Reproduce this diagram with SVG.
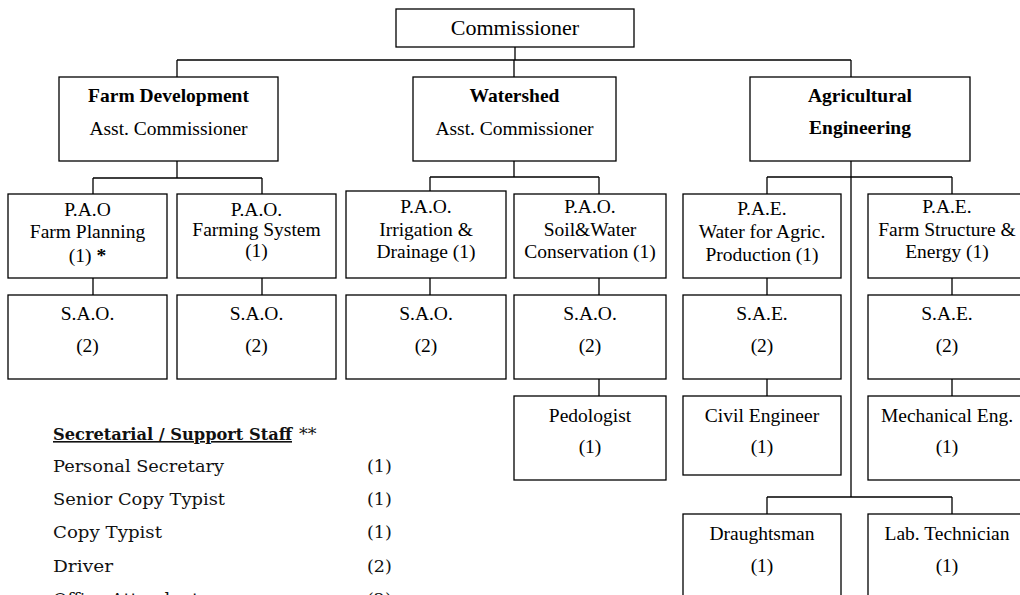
<svg xmlns="http://www.w3.org/2000/svg" width="1020" height="595" viewBox="0 0 1020 595">
<style>
  .box { fill: #fff; stroke: #000; stroke-width: 1.3; }
  .ln { fill: none; stroke: #000; stroke-width: 1.3; }
  .t { font-family: "Liberation Serif", "Times New Roman", serif; font-size: 19.5px; fill: #000; text-anchor: middle; }
  .b { font-weight: bold; }
  .s { font-family: "DejaVu Serif", "Liberation Serif", serif; font-size: 17.5px; fill: #111; }
</style>
<rect width="1020" height="595" fill="#fff"/>
<g id="connectors">
  <path class="ln" d="M515 47 V60 M177 60 H851 M177 60 V77 M514 60 V77 M851 60 V77"/>
  <path class="ln" d="M177 161 V178 M93 178 H262 M93 178 V194 M262 178 V194"/>
  <path class="ln" d="M514 161 V177 M430 177 H599 M430 177 V191 M599 177 V194"/>
  <path class="ln" d="M851 161 V497 M767 177 H952 M767 177 V194 M952 177 V194 M767 497 H952 M767 497 V514 M952 497 V514"/>
  <path class="ln" d="M93 278 V295 M262 278 V295 M430 278 V295 M599 278 V295 M767 278 V295 M952 278 V295"/>
  <path class="ln" d="M599 379 V396 M767 379 V396 M952 379 V396"/>
</g>
<g id="commissioner">
  <rect class="box" x="396" y="9" width="238" height="38"/>
  <text class="t" x="515" y="35" style="font-size:22px">Commissioner</text>
</g>
<g id="farm-development">
  <rect class="box" x="59" y="77" width="219" height="84"/>
  <text class="t b" x="168.5" y="102">Farm Development</text>
  <text class="t" x="168.5" y="135">Asst. Commissioner</text>
</g>
<g id="watershed">
  <rect class="box" x="413" y="77" width="203" height="84"/>
  <text class="t b" x="514.5" y="102">Watershed</text>
  <text class="t" x="514.5" y="135">Asst. Commissioner</text>
</g>
<g id="agricultural-engineering">
  <rect class="box" x="750" y="77" width="220" height="84"/>
  <text class="t b" x="860" y="102">Agricultural</text>
  <text class="t b" x="860" y="134">Engineering</text>
</g>
<g id="pao-farm-planning">
  <rect class="box" x="8" y="194" width="159" height="84"/>
  <text class="t" x="87.5" y="216">P.A.O</text>
  <text class="t" x="87.5" y="238">Farm Planning</text>
  <text class="t" x="87.5" y="262">(1) <tspan font-weight="bold">*</tspan></text>
</g>
<g id="pao-farming-system">
  <rect class="box" x="177" y="194" width="159" height="84"/>
  <text class="t" x="256.5" y="216">P.A.O.</text>
  <text class="t" x="256.5" y="236">Farming System</text>
  <text class="t" x="256.5" y="257">(1)</text>
</g>
<g id="pao-irrigation">
  <rect class="box" x="346" y="191" width="160" height="87"/>
  <text class="t" x="426" y="213">P.A.O.</text>
  <text class="t" x="426" y="236">Irrigation &amp;</text>
  <text class="t" x="426" y="258">Drainage (1)</text>
</g>
<g id="pao-soil-water">
  <rect class="box" x="514" y="194" width="152" height="84"/>
  <text class="t" x="590" y="213">P.A.O.</text>
  <text class="t" x="590" y="236">Soil&amp;Water</text>
  <text class="t" x="590" y="258">Conservation (1)</text>
</g>
<g id="pae-water">
  <rect class="box" x="683" y="194" width="158" height="84"/>
  <text class="t" x="762" y="215">P.A.E.</text>
  <text class="t" x="762" y="238">Water for Agric.</text>
  <text class="t" x="762" y="261">Production (1)</text>
</g>
<g id="pae-farm-structure">
  <rect class="box" x="868" y="194" width="158" height="84"/>
  <text class="t" x="947" y="213">P.A.E.</text>
  <text class="t" x="947" y="236">Farm Structure &amp;</text>
  <text class="t" x="947" y="258">Energy (1)</text>
</g>
<g id="sao-1">
  <rect class="box" x="8" y="295" width="159" height="84"/>
  <text class="t" x="87.5" y="320">S.A.O.</text>
  <text class="t" x="87.5" y="352">(2)</text>
</g>
<g id="sao-2">
  <rect class="box" x="177" y="295" width="159" height="84"/>
  <text class="t" x="256.5" y="320">S.A.O.</text>
  <text class="t" x="256.5" y="352">(2)</text>
</g>
<g id="sao-3">
  <rect class="box" x="346" y="295" width="160" height="84"/>
  <text class="t" x="426" y="320">S.A.O.</text>
  <text class="t" x="426" y="352">(2)</text>
</g>
<g id="sao-4">
  <rect class="box" x="514" y="295" width="152" height="84"/>
  <text class="t" x="590" y="320">S.A.O.</text>
  <text class="t" x="590" y="352">(2)</text>
</g>
<g id="sae-1">
  <rect class="box" x="683" y="295" width="158" height="84"/>
  <text class="t" x="762" y="320">S.A.E.</text>
  <text class="t" x="762" y="352">(2)</text>
</g>
<g id="sae-2">
  <rect class="box" x="868" y="295" width="158" height="84"/>
  <text class="t" x="947" y="320">S.A.E.</text>
  <text class="t" x="947" y="352">(2)</text>
</g>
<g id="pedologist">
  <rect class="box" x="514" y="396" width="152" height="84"/>
  <text class="t" x="590" y="422">Pedologist</text>
  <text class="t" x="590" y="453">(1)</text>
</g>
<g id="civil-engineer">
  <rect class="box" x="683" y="396" width="158" height="79"/>
  <text class="t" x="762" y="422">Civil Engineer</text>
  <text class="t" x="762" y="453">(1)</text>
</g>
<g id="mechanical-eng">
  <rect class="box" x="868" y="396" width="158" height="84"/>
  <text class="t" x="947" y="422">Mechanical Eng.</text>
  <text class="t" x="947" y="453">(1)</text>
</g>
<g id="draughtsman">
  <rect class="box" x="683" y="514" width="158" height="100"/>
  <text class="t" x="762" y="540">Draughtsman</text>
  <text class="t" x="762" y="572">(1)</text>
</g>
<g id="lab-technician">
  <rect class="box" x="868" y="514" width="158" height="100"/>
  <text class="t" x="947" y="540">Lab. Technician</text>
  <text class="t" x="947" y="572">(1)</text>
</g>
<g id="support-staff">
  <text class="s" x="53" y="440" font-weight="bold" text-decoration="underline" style="font-size:16px" textLength="239" lengthAdjust="spacingAndGlyphs">Secretarial / Support Staff</text>
  <text class="s" x="299" y="440">**</text>
  <text class="s" x="53" y="472" textLength="171" lengthAdjust="spacingAndGlyphs">Personal Secretary</text>
  <text class="s" x="367" y="472">(1)</text>
  <text class="s" x="53" y="505" textLength="172" lengthAdjust="spacingAndGlyphs">Senior Copy Typist</text>
  <text class="s" x="367" y="505">(1)</text>
  <text class="s" x="53" y="538" textLength="109" lengthAdjust="spacingAndGlyphs">Copy Typist</text>
  <text class="s" x="367" y="538">(1)</text>
  <text class="s" x="53" y="572" textLength="60" lengthAdjust="spacingAndGlyphs">Driver</text>
  <text class="s" x="367" y="572">(2)</text>
  <text class="s" x="53" y="605">Office Attendant</text>
  <text class="s" x="367" y="605">(2)</text>
</g>
</svg>
